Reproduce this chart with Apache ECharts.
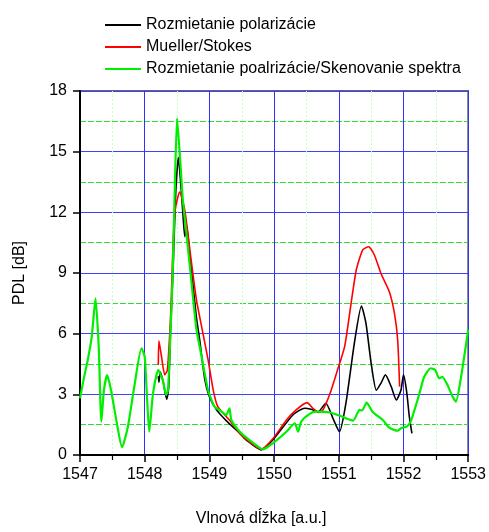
<!DOCTYPE html>
<html>
<head>
<meta charset="utf-8">
<script src="https://cdn.jsdelivr.net/npm/echarts@6/dist/echarts.min.js"></script>
<style>
  html, body { margin: 0; padding: 0; background: #fff; }
  #chart { width: 489px; height: 532px; }
</style>
</head>
<body>
<div id="chart"></div>
<script>
// Series names (legend order)
const seriesNames = [
  'Rozmietanie polarizácie',
  'Mueller/Stokes',
  'Rozmietanie poalrizácie/Skenovanie spektra'
];

// Axis settings
const xTicks = [1547, 1548, 1549, 1550, 1551, 1552, 1553];
const yTicks = [0, 3, 6, 9, 12, 15, 18];

// Polarization sweep: [wavelength, PDL dB]
const sweepPts = [
  [1548.21, 3.9], [1548.22, 3.6], [1548.24, 4.1], [1548.28, 3.7], [1548.34, 2.75],
  [1548.37, 3.3], [1548.40, 6.2], [1548.44, 9.3], [1548.48, 13.0], [1548.52, 14.72],
  [1548.56, 13.3], [1548.59, 11.95], [1548.62, 10.8], [1548.65, 11.3], [1548.70, 9.8],
  [1548.75, 8.3], [1548.80, 6.8], [1548.85, 5.69], [1548.93, 3.71], [1549.0, 2.88],
  [1549.11, 2.23], [1549.26, 1.7], [1549.47, 1.07], [1549.57, 0.74], [1549.80, 0.25],
  [1549.98, 0.74], [1550.29, 1.98], [1550.47, 2.31], [1550.57, 2.26], [1550.68, 2.14],
  [1550.80, 2.56], [1550.91, 1.81], [1551.01, 1.15], [1551.11, 2.56], [1551.24, 5.52],
  [1551.35, 7.37], [1551.42, 6.51], [1551.50, 4.53], [1551.58, 3.2], [1551.65, 3.54],
  [1551.72, 3.96], [1551.81, 3.38], [1551.89, 2.72], [1551.96, 3.2], [1552.0, 3.96],
  [1552.05, 3.1], [1552.09, 1.9], [1552.13, 1.07]
];

// Mueller/Stokes method
const muellerPts = [
  [1548.21, 4.45], [1548.22, 5.65], [1548.26, 4.86], [1548.31, 3.96], [1548.35, 4.2],
  [1548.39, 6.18], [1548.41, 7.67], [1548.44, 10.6], [1548.47, 12.1], [1548.54, 13.0],
  [1548.62, 12.1], [1548.70, 10.1], [1548.80, 7.67], [1548.90, 6.02], [1548.98, 4.7],
  [1549.06, 3.2], [1549.13, 2.39], [1549.31, 1.73], [1549.47, 1.07], [1549.60, 0.7],
  [1549.80, 0.28], [1549.98, 0.8], [1550.19, 1.73], [1550.34, 2.23], [1550.51, 2.59],
  [1550.60, 2.31], [1550.68, 2.1], [1550.75, 2.2], [1550.86, 3.0], [1550.98, 4.2],
  [1551.09, 5.36], [1551.19, 7.5], [1551.27, 9.15], [1551.37, 10.14], [1551.46, 10.3],
  [1551.55, 9.89], [1551.65, 8.99], [1551.78, 8.08], [1551.86, 7.0], [1551.91, 5.69],
  [1551.94, 3.38]
];

// Polarization sweep / spectral scan
const scanPts = [
  [1547.0, 2.8], [1547.06, 3.8], [1547.12, 4.7], [1547.18, 5.8], [1547.24, 7.75],
  [1547.29, 5.3], [1547.33, 1.65], [1547.37, 3.2], [1547.42, 3.95], [1547.48, 3.2],
  [1547.56, 1.75], [1547.65, 0.38], [1547.74, 1.4], [1547.84, 3.4], [1547.95, 5.28],
  [1548.0, 4.86], [1548.03, 3.2], [1548.07, 1.15], [1548.13, 3.07], [1548.21, 4.2],
  [1548.28, 3.7], [1548.33, 2.97], [1548.36, 3.2], [1548.40, 6.2], [1548.43, 8.65],
  [1548.46, 12.5], [1548.50, 16.65], [1548.55, 14.5], [1548.59, 12.6], [1548.67, 10.2],
  [1548.75, 7.7], [1548.80, 6.2], [1548.88, 4.86], [1548.98, 3.2], [1549.08, 2.39],
  [1549.19, 2.14], [1549.26, 1.98], [1549.31, 2.31], [1549.34, 1.73], [1549.47, 1.15],
  [1549.62, 0.74], [1549.83, 0.28], [1549.98, 0.58], [1550.19, 1.15], [1550.32, 1.57],
  [1550.37, 1.15], [1550.42, 1.65], [1550.55, 2.03], [1550.65, 2.14], [1550.86, 2.1],
  [1551.01, 1.95], [1551.22, 1.7], [1551.32, 2.23], [1551.36, 2.2], [1551.43, 2.59],
  [1551.52, 2.14], [1551.68, 1.73], [1551.78, 1.35], [1551.91, 1.2], [1551.96, 1.32],
  [1552.06, 1.43], [1552.12, 1.73], [1552.24, 2.97], [1552.32, 3.87], [1552.42, 4.29],
  [1552.49, 4.2], [1552.55, 3.79], [1552.60, 3.87], [1552.68, 3.46], [1552.76, 2.88],
  [1552.81, 2.64], [1552.89, 3.87], [1553.0, 6.2]
];

const FONT = 'Arial, "Liberation Sans", sans-serif';
const chart = echarts.init(document.getElementById('chart'), null, { renderer: 'canvas' });

function lineSeries(name, data, color, width) {
  return {
    name: name,
    type: 'line',
    data: data,
    symbol: 'none',
    smooth: 0.2,
    lineStyle: { color: color, width: width },
    itemStyle: { color: color },
    animation: false
  };
}

chart.setOption({
  animation: false,
  backgroundColor: '#fff',
  grid: {
    left: 80, right: 20, top: 91, bottom: 77,
    show: true, borderColor: '#333', borderWidth: 1.5
  },
  legend: {
    orient: 'vertical',
    left: 104, top: 17, padding: 0,
    itemWidth: 36, itemHeight: 16, itemGap: 6,
    data: seriesNames,
    itemStyle: { opacity: 0 },
    textStyle: { fontFamily: FONT, fontSize: 16, color: '#000' }
  },
  xAxis: {
    type: 'value',
    min: xTicks[0], max: xTicks[xTicks.length - 1], interval: 1,
    name: 'Vlnová dĺžka [a.u.]',
    nameLocation: 'middle', nameGap: 56,
    nameTextStyle: { fontFamily: FONT, fontSize: 16, color: '#000', padding: [0, 26, 0, 0] },
    axisLine: { onZero: false, lineStyle: { color: '#000', width: 2 } },
    axisTick: { show: true, length: 7, lineStyle: { color: '#000', width: 1.5 } },
    minorTick: { show: true, splitNumber: 2, length: 5, lineStyle: { color: '#000', width: 1.2 } },
    axisLabel: {
      fontFamily: FONT, fontSize: 16, color: '#000', margin: 12,
      formatter: v => String(v)
    },
    splitLine: { show: true, lineStyle: { color: '#3030ff', width: 1 } },
    minorSplitLine: { show: true, lineStyle: { color: '#c8ffc8', width: 1, type: [2, 2] } }
  },
  yAxis: {
    type: 'value',
    min: yTicks[0], max: yTicks[yTicks.length - 1], interval: 3,
    name: 'PDL [dB]',
    nameLocation: 'middle', nameGap: 52,
    nameTextStyle: { fontFamily: FONT, fontSize: 16, color: '#000' },
    axisLine: { onZero: false, lineStyle: { color: '#000', width: 2 } },
    axisTick: { show: true, length: 7, lineStyle: { color: '#000', width: 1.5 } },
    minorTick: { show: false, splitNumber: 2 },
    axisLabel: { fontFamily: FONT, fontSize: 16, color: '#000', margin: 13 },
    splitLine: { show: true, lineStyle: { color: '#4040ff', width: 1.2 } },
    minorSplitLine: { show: true, lineStyle: { color: '#33dd33', width: 1, type: [6, 2] } }
  },
  series: [
    lineSeries(seriesNames[0], sweepPts, '#000000', 1.6),
    lineSeries(seriesNames[1], muellerPts, '#ff0000', 1.6),
    lineSeries(seriesNames[2], scanPts, '#00ee00', 2.2)
  ]
});
</script>
</body>
</html>
